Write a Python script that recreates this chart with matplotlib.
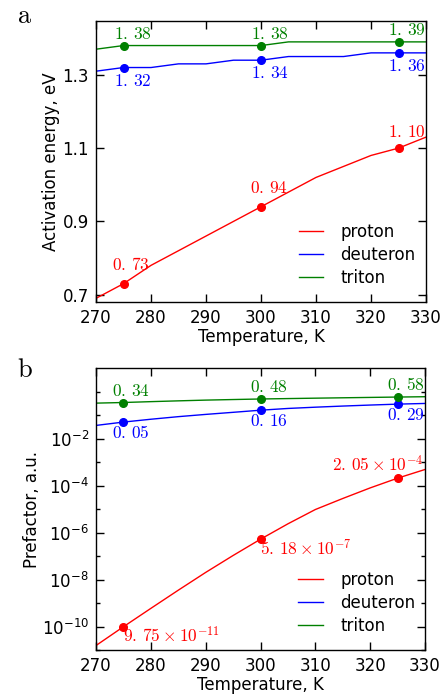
import matplotlib
matplotlib.use("Agg")
import matplotlib.pyplot as plt
import numpy as np
from matplotlib.ticker import FixedLocator, NullFormatter, MultipleLocator

# ---- data ----
temperature = [270, 275, 280, 285, 290, 295, 300, 305, 310, 315, 320, 325, 330]
marked_T = [275, 300, 325]

Ea_proton = [0.69, 0.73, 0.78, 0.82, 0.86, 0.90, 0.94, 0.98, 1.02, 1.05, 1.08, 1.10, 1.13]
Ea_deuteron = [1.31, 1.32, 1.32, 1.33, 1.33, 1.34, 1.34, 1.35, 1.35, 1.35, 1.36, 1.36, 1.36]
Ea_triton = [1.37, 1.38, 1.38, 1.38, 1.38, 1.38, 1.38, 1.39, 1.39, 1.39, 1.39, 1.39, 1.39]

A_proton = [1.55e-11, 9.75e-11, 5.9e-10, 3.5e-9, 2.0e-8, 1.05e-7, 5.18e-7,
            2.34e-6, 9.5e-6, 2.8e-5, 7.9e-5, 2.05e-4, 4.8e-4]
A_deuteron = [0.036, 0.05, 0.066, 0.085, 0.106, 0.13, 0.16, 0.19, 0.215, 0.24, 0.265, 0.29, 0.31]
A_triton = [0.32, 0.34, 0.37, 0.40, 0.43, 0.455, 0.48, 0.50, 0.52, 0.54, 0.56, 0.58, 0.60]

Ea_ticks = [0.7, 0.9, 1.1, 1.3]
A_major_ticks = [1e-10, 1e-8, 1e-6, 1e-4, 1e-2]
A_minor_ticks = [1e-11, 1e-9, 1e-7, 1e-5, 1e-3, 1e-1, 1.0]

series_names = ["proton", "deuteron", "triton"]
colors = ["#ff0000", "#0000ff", "#008000"]

Ea_labels = {
    "proton": ["0.73", "0.94", "1.10"],
    "deuteron": ["1.32", "1.34", "1.36"],
    "triton": ["1.38", "1.38", "1.39"],
}
A_labels = {
    "proton": [r"9.75\times10^{-11}", r"5.18\times10^{-7}", r"2.05\times10^{-4}"],
    "deuteron": ["0.05", "0.16", "0.29"],
    "triton": ["0.34", "0.48", "0.58"],
}

# label offsets in pixels (dx, dy) relative to each marked point
Ea_offsets = {
    "proton": [(-11, 14), (-11, 14), (-11, 11)],
    "deuteron": [(-10, -18), (-10, -18), (-10, -18)],
    "triton": [(-10, 7), (-10, 7), (-10, 7)],
}
A_offsets = {
    "proton": [(0, -16), (0, -16), (-66, 7)],
    "deuteron": [(-11, -16), (-11, -16), (-11, -16)],
    "triton": [(-11, 7), (-11, 7), (-11, 7)],
}

def fmt_num(s):
    return "$" + s.replace(".", r".\,") + "$"

plt.rcParams["font.family"] = ["DejaVu Sans"]
plt.rcParams["font.size"] = 12
plt.rcParams["axes.linewidth"] = 1.0

fig = plt.figure(figsize=(4.47, 6.94), dpi=100)
ax1 = fig.add_axes([96/447, 1-302/694, 330/447, 281/694])
ax2 = fig.add_axes([96/447, 1-650/694, 329/447, 282/694])

idx = [temperature.index(t) for t in marked_T]

Ea_data = {"proton": Ea_proton, "deuteron": Ea_deuteron, "triton": Ea_triton}
A_data = {"proton": A_proton, "deuteron": A_deuteron, "triton": A_triton}

for ax, data, labels, offsets in [(ax1, Ea_data, Ea_labels, Ea_offsets),
                                  (ax2, A_data, A_labels, A_offsets)]:
    for name, c in zip(series_names, colors):
        y = data[name]
        ax.plot(temperature, y, color=c, lw=1.0, label=name)
        ax.plot([temperature[i] for i in idx], [y[i] for i in idx], "o",
                color=c, ms=5.5, mec=c)
        for k, i in enumerate(idx):
            dx, dy = offsets[name][k]
            ax.annotate(fmt_num(labels[name][k]), (temperature[i], y[i]),
                        xytext=(dx, dy), textcoords="offset pixels",
                        ha="left", va="baseline", color=c, fontsize=12.5,
                        math_fontfamily="cm")
    leg = ax.legend(loc="upper left", bbox_to_anchor=(0.615, 0.281),
                    frameon=False, borderpad=0, borderaxespad=0,
                    handlelength=1.45, handletextpad=1.05, labelspacing=0.3,
                    fontsize=12)
    ax.set_xlim(270, 330)
    ax.xaxis.set_major_locator(MultipleLocator(10))
    ax.tick_params(which="both", direction="in", top=True, right=True, width=1.0)
    ax.tick_params(which="major", length=6, pad=5)
    ax.tick_params(which="minor", length=3)
    ax.set_xlabel("Temperature, K", labelpad=1)

ax1.set_ylim(0.68, 1.447)
ax1.yaxis.set_major_locator(FixedLocator(Ea_ticks))
ax1.set_ylabel("Activation energy, eV", labelpad=2)

ax2.set_yscale("log")
ax2.set_ylim(1e-11, 10)
ax2.yaxis.set_major_locator(FixedLocator(A_major_ticks))
ax2.yaxis.set_minor_locator(FixedLocator(A_minor_ticks))
ax2.yaxis.set_minor_formatter(NullFormatter())
ax2.set_ylabel("Prefactor, a.u.", labelpad=0.5)

fig.text(17/447, 1-22.7/694, r"$\mathrm{a}$", fontsize=19, math_fontfamily="cm",
         ha="left", va="baseline")
fig.text(17/447, 1-377.3/694, r"$\mathrm{b}$", fontsize=19, math_fontfamily="cm",
         ha="left", va="baseline")

fig.savefig("out.png", dpi=100)
